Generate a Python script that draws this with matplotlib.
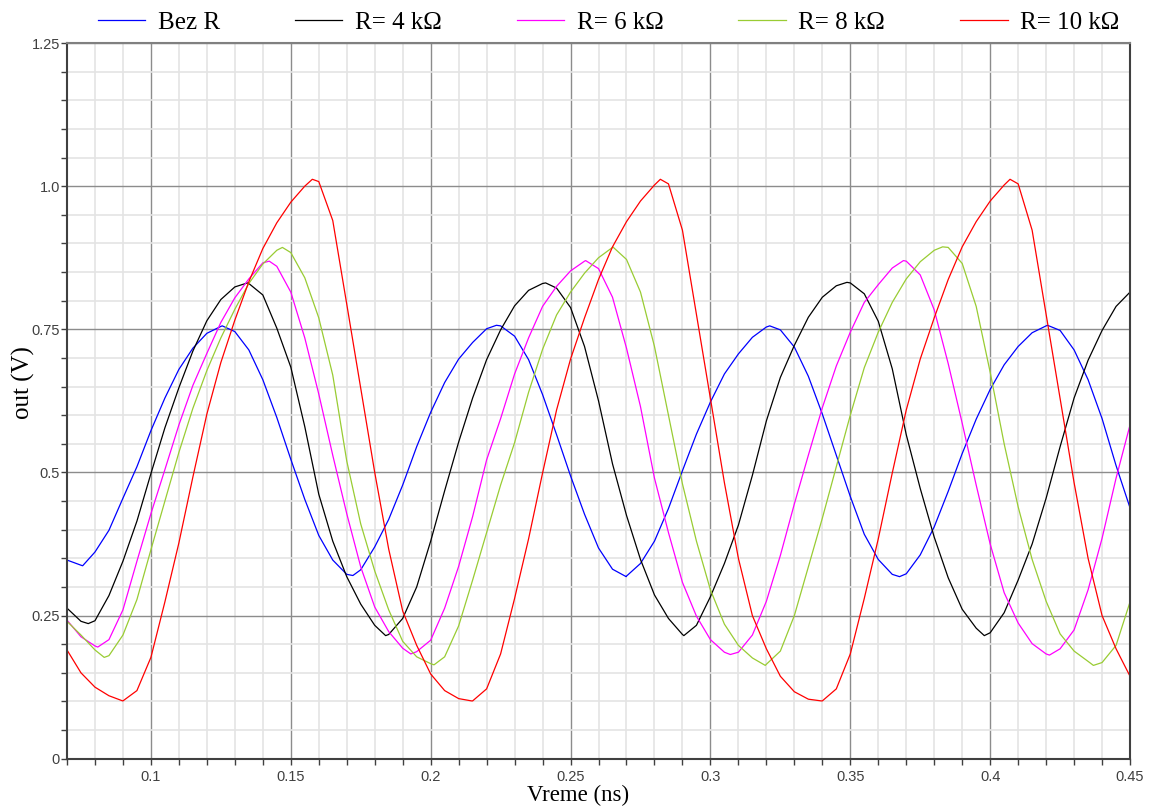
import numpy as np
import matplotlib
matplotlib.use('Agg')
import matplotlib.pyplot as plt
from matplotlib.ticker import FixedLocator, MultipleLocator

# vremenska osa (ns), uzorci na svakih 0.005 ns
t_ns = np.round(np.arange(0.070, 0.4501, 0.005), 3)

bez_r = [0.347, 0.338, 0.361, 0.399, 0.455, 0.510, 0.573, 0.630, 0.680, 0.717,
         0.743, 0.755, 0.746, 0.714, 0.662, 0.596, 0.523, 0.453, 0.390, 0.347,
         0.322, 0.330, 0.370, 0.418, 0.478, 0.545, 0.605, 0.657, 0.698, 0.727,
         0.751, 0.756, 0.738, 0.697, 0.636, 0.566, 0.494, 0.427, 0.368, 0.331,
         0.319, 0.341, 0.380, 0.437, 0.503, 0.567, 0.623, 0.672, 0.707, 0.736,
         0.754, 0.749, 0.719, 0.668, 0.602, 0.530, 0.458, 0.392, 0.348, 0.322,
         0.323, 0.356, 0.405, 0.467, 0.533, 0.593, 0.645, 0.688, 0.720, 0.744,
         0.756, 0.748, 0.714, 0.662, 0.594, 0.512, 0.438]

r_4k = [0.263, 0.240, 0.241, 0.285, 0.345, 0.415, 0.498, 0.578, 0.648, 0.712,
        0.765, 0.802, 0.824, 0.830, 0.810, 0.752, 0.684, 0.580, 0.462, 0.380,
        0.318, 0.270, 0.233, 0.217, 0.245, 0.300, 0.380, 0.468, 0.553, 0.630,
        0.697, 0.749, 0.791, 0.818, 0.830, 0.822, 0.788, 0.720, 0.625, 0.515,
        0.425, 0.348, 0.286, 0.245, 0.217, 0.233, 0.283, 0.341, 0.408, 0.495,
        0.590, 0.666, 0.722, 0.771, 0.806, 0.826, 0.831, 0.812, 0.764, 0.681,
        0.566, 0.472, 0.387, 0.316, 0.261, 0.228, 0.220, 0.255, 0.312, 0.375,
        0.455, 0.545, 0.630, 0.696, 0.748, 0.790, 0.815]

r_6k = [0.242, 0.213, 0.197, 0.208, 0.260, 0.345, 0.428, 0.505, 0.583, 0.652,
        0.708, 0.762, 0.805, 0.838, 0.866, 0.860, 0.815, 0.735, 0.637, 0.530,
        0.428, 0.335, 0.265, 0.222, 0.193, 0.187, 0.207, 0.263, 0.336, 0.423,
        0.522, 0.594, 0.672, 0.735, 0.790, 0.825, 0.852, 0.869, 0.856, 0.806,
        0.717, 0.615, 0.490, 0.395, 0.308, 0.249, 0.208, 0.186, 0.186, 0.216,
        0.275, 0.355, 0.445, 0.530, 0.613, 0.686, 0.745, 0.797, 0.828, 0.857,
        0.869, 0.845, 0.784, 0.690, 0.586, 0.478, 0.375, 0.290, 0.237, 0.201,
        0.183, 0.192, 0.225, 0.295, 0.385, 0.490, 0.583]

r_8k = [0.240, 0.216, 0.190, 0.180, 0.216, 0.278, 0.365, 0.450, 0.535, 0.612,
        0.678, 0.735, 0.785, 0.830, 0.864, 0.888, 0.884, 0.840, 0.770, 0.670,
        0.520, 0.410, 0.328, 0.260, 0.205, 0.178, 0.166, 0.178, 0.232, 0.312,
        0.395, 0.478, 0.552, 0.640, 0.715, 0.775, 0.815, 0.848, 0.875, 0.893,
        0.872, 0.815, 0.720, 0.600, 0.480, 0.380, 0.295, 0.235, 0.198, 0.176,
        0.165, 0.188, 0.250, 0.335, 0.420, 0.510, 0.600, 0.683, 0.745, 0.797,
        0.838, 0.868, 0.888, 0.893, 0.865, 0.790, 0.675, 0.550, 0.440, 0.348,
        0.275, 0.218, 0.188, 0.170, 0.168, 0.198, 0.274]

r_10k = [0.190, 0.150, 0.125, 0.110, 0.101, 0.119, 0.177, 0.274, 0.377, 0.492,
         0.602, 0.692, 0.766, 0.833, 0.891, 0.936, 0.972, 1.000, 1.008, 0.940,
         0.794, 0.647, 0.500, 0.366, 0.258, 0.198, 0.148, 0.119, 0.105, 0.101,
         0.122, 0.183, 0.280, 0.384, 0.499, 0.609, 0.698, 0.770, 0.837, 0.894,
         0.938, 0.974, 1.002, 1.004, 0.923, 0.776, 0.629, 0.482, 0.350, 0.250,
         0.192, 0.144, 0.117, 0.104, 0.101, 0.122, 0.183, 0.280, 0.384, 0.499,
         0.609, 0.698, 0.770, 0.837, 0.894, 0.938, 0.974, 1.002, 1.004, 0.923,
         0.776, 0.629, 0.482, 0.350, 0.250, 0.192, 0.144]

# ocitani ekstremi (vreme ns, napon V) za svaku krivu
bez_r_ext = [(0.0756, 0.337), (0.1255, 0.756), (0.1722, 0.320), (0.2235, 0.757),
             (0.2699, 0.318), (0.3212, 0.756), (0.3676, 0.318), (0.4205, 0.757)]
r_4k_ext = [(0.0776, 0.236), (0.1345, 0.831), (0.1839, 0.215), (0.2411, 0.831),
            (0.2905, 0.215), (0.3488, 0.832), (0.3979, 0.215)]
r_6k_ext = [(0.0810, 0.195), (0.1423, 0.869), (0.1929, 0.183), (0.2554, 0.870),
            (0.3071, 0.182), (0.3690, 0.870), (0.4212, 0.181)]
r_8k_ext = [(0.0833, 0.177), (0.1470, 0.893), (0.2012, 0.164), (0.2651, 0.894),
            (0.3196, 0.163), (0.3830, 0.894), (0.4369, 0.163)]
r_10k_ext = [(0.0899, 0.101), (0.1577, 1.012), (0.2146, 0.101), (0.2821, 1.012),
             (0.3396, 0.101), (0.4071, 1.012)]

labels = ['Bez R', 'R= 4 kΩ', 'R= 6 kΩ', 'R= 8 kΩ', 'R= 10 kΩ']
colors = ['#0000ff', '#000000', '#ff00ff', '#99cc33', '#ff0000']
series = [bez_r, r_4k, r_6k, r_8k, r_10k]
extrema = [bez_r_ext, r_4k_ext, r_6k_ext, r_8k_ext, r_10k_ext]

x_ticks = [0.1, 0.15, 0.2, 0.25, 0.3, 0.35, 0.4, 0.45]
x_tick_labels = ['0.1', '0.15', '0.2', '0.25', '0.3', '0.35', '0.4', '0.45']
y_ticks = [0, 0.25, 0.5, 0.75, 1.0, 1.25]
y_tick_labels = ['0', '0.25', '0.5', '0.75', '1.0', '1.25']

fig = plt.figure(figsize=(11.55, 8.10), dpi=100)
ax = fig.add_axes([0.058, 0.0633, 0.9204, 0.8836])

for vals, ext, col, lab in zip(series, extrema, colors, labels):
    # spoji uzorke i ocitane ekstreme, pa sortiraj po vremenu
    pts = sorted(list(zip(t_ns, vals)) + ext)
    xs = [p[0] for p in pts]
    ys = [p[1] for p in pts]
    ax.plot(xs, ys, color=col, lw=0.9, label=lab, solid_joinstyle='round')

ax.set_xlim(0.07, 0.45)
ax.set_ylim(0, 1.25)
ax.xaxis.set_major_locator(FixedLocator(x_ticks))
ax.xaxis.set_minor_locator(MultipleLocator(0.01))
ax.yaxis.set_major_locator(FixedLocator(y_ticks))
ax.yaxis.set_minor_locator(MultipleLocator(0.05))
ax.set_xticklabels(x_tick_labels)
ax.set_yticklabels(y_tick_labels)

ax.set_axisbelow(True)
ax.grid(which='minor', color='#e4e4e4', lw=1.2)
ax.grid(which='major', color='#8c8c8c', lw=1.0)

ax.tick_params(which='both', direction='out', length=4, width=1, color='#404040')
ax.tick_params(which='major', labelsize=10.5, labelcolor='#404040')
ax.tick_params(axis='x', pad=4)
ax.tick_params(axis='y', pad=1)
for lab in ax.get_xticklabels() + ax.get_yticklabels():
    lab.set_family('Liberation Sans')

for side in ['left', 'bottom', 'right']:
    ax.spines[side].set_color('#404040')
    ax.spines[side].set_linewidth(1.5)
ax.spines['top'].set_color('#808080')
ax.spines['top'].set_linewidth(1.5)

ax.set_ylabel('out (V)', family='Liberation Serif', fontsize=18)
ax.yaxis.set_label_coords(-0.030, 0.525)
ax.set_xlabel('Vreme (ns)', family='Liberation Serif', fontsize=16.5)
ax.xaxis.set_label_coords(0.481, -0.036)

ax.legend(loc='center', bbox_to_anchor=(0.527, 0.972), bbox_transform=fig.transFigure,
          ncol=5, frameon=False, prop={'family': 'Liberation Serif', 'size': 18},
          handlelength=1.9, handletextpad=0.5, columnspacing=3.0)

fig.savefig('out.png', dpi=100)
